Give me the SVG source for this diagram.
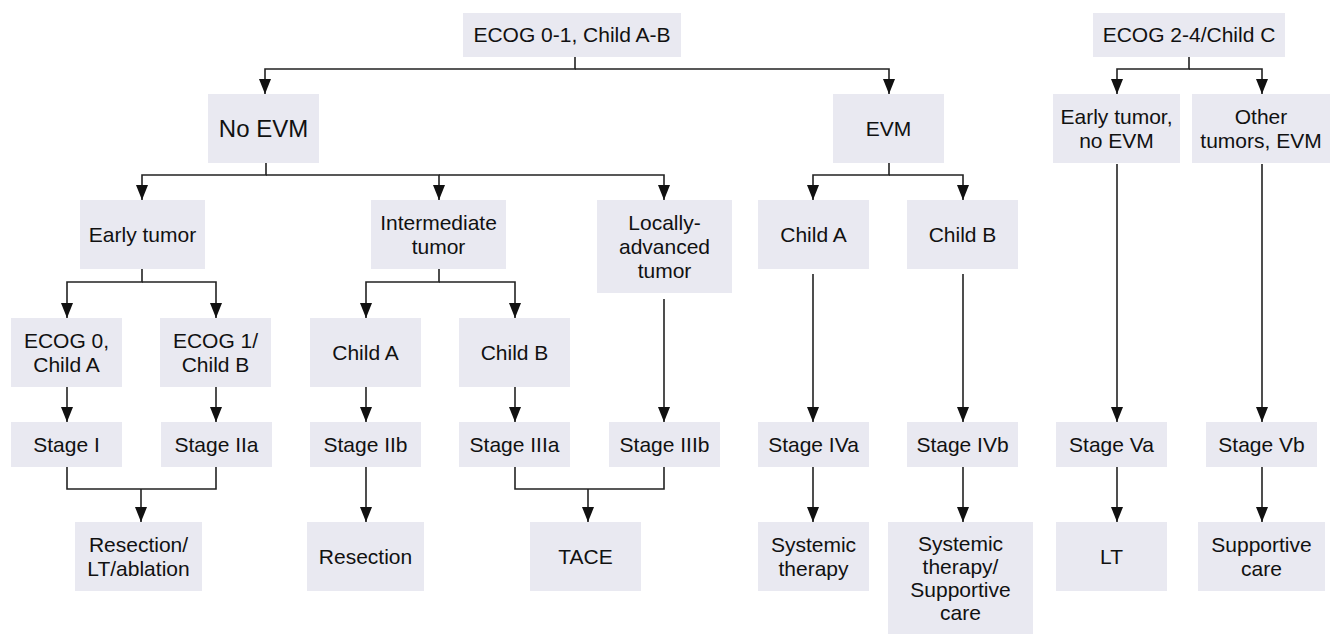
<svg xmlns="http://www.w3.org/2000/svg" width="1331" height="635" viewBox="0 0 1331 635">
  <defs>
    <marker id="arrow" viewBox="0 0 15 12" refX="15" refY="6" markerWidth="15" markerHeight="12" markerUnits="userSpaceOnUse" orient="auto">
      <path d="M0,0 L15,6 L0,12 z" fill="#111"/>
    </marker>
    <style>
      .box { fill: #e9e9f1; }
      .lbl { font-family: "Liberation Sans", Arial, Helvetica, sans-serif; font-size: 21px; fill: #111; text-anchor: middle; }
      .big { font-size: 24px; }
      .conn path { fill: none; stroke: #222; stroke-width: 1.6; }
      .conn path.arr { marker-end: url(#arrow); }
    </style>
  </defs>
  <rect width="1331" height="635" fill="#ffffff"/>

  <!-- connectors -->
  <g id="connectors" class="conn">
    <!-- ECOG 0-1 split -->
    <path class="arr" d="M575,57 V69 H265 V94"/>
    <path class="arr" d="M575,69 H889 V94"/>
    <!-- ECOG 2-4 split -->
    <path class="arr" d="M1189,57 V69 H1117 V94"/>
    <path class="arr" d="M1189,69 H1262 V94"/>
    <!-- No EVM split -->
    <path class="arr" d="M266,163 V175 H142 V200"/>
    <path class="arr" d="M266,175 H439 V200"/>
    <path class="arr" d="M439,175 H664 V200"/>
    <!-- EVM split -->
    <path class="arr" d="M889,163 V175 H813 V200"/>
    <path class="arr" d="M889,175 H963 V200"/>
    <!-- Early tumor split -->
    <path class="arr" d="M142,269 V282 H67 V318"/>
    <path class="arr" d="M142,282 H216 V318"/>
    <!-- Intermediate tumor split -->
    <path class="arr" d="M439,269 V282 H366 V318"/>
    <path class="arr" d="M439,282 H515 V318"/>
    <!-- to stages -->
    <path class="arr" d="M67,387 V422"/>
    <path class="arr" d="M216,387 V422"/>
    <path class="arr" d="M366,387 V422"/>
    <path class="arr" d="M515,387 V422"/>
    <path class="arr" d="M664,299 V422"/>
    <path class="arr" d="M813,274 V422"/>
    <path class="arr" d="M963,274 V422"/>
    <path class="arr" d="M1117,164 V422"/>
    <path class="arr" d="M1262,164 V422"/>
    <!-- stages to treatments -->
    <path d="M67,467 V489 H216 V467"/>
    <path class="arr" d="M141,489 V522"/>
    <path class="arr" d="M366,467 V522"/>
    <path d="M515,467 V489 H664 V467"/>
    <path class="arr" d="M588,489 V522"/>
    <path class="arr" d="M813,467 V522"/>
    <path class="arr" d="M963,467 V522"/>
    <path class="arr" d="M1117,467 V522"/>
    <path class="arr" d="M1262,467 V522"/>
  </g>

  <!-- level 0 -->
  <g id="ecog01">
    <rect class="box" x="463" y="13" width="218" height="44"/>
    <text class="lbl" x="572" y="42">ECOG 0-1, Child A-B</text>
  </g>
  <g id="ecog24">
    <rect class="box" x="1093" y="13" width="192" height="44"/>
    <text class="lbl" x="1189" y="42">ECOG 2-4/Child C</text>
  </g>

  <!-- level 1 -->
  <g id="no-evm">
    <rect class="box" x="208" y="94" width="111" height="69"/>
    <text class="lbl big" x="263.5" y="137">No EVM</text>
  </g>
  <g id="evm">
    <rect class="box" x="833" y="94" width="111" height="69"/>
    <text class="lbl" x="888.5" y="136">EVM</text>
  </g>
  <g id="early-no-evm">
    <rect class="box" x="1053" y="94" width="127" height="69"/>
    <text class="lbl" x="1116.5" y="124">Early tumor,</text>
    <text class="lbl" x="1116.5" y="148">no EVM</text>
  </g>
  <g id="other-tumors">
    <rect class="box" x="1192" y="94" width="138" height="69"/>
    <text class="lbl" x="1261" y="124">Other</text>
    <text class="lbl" x="1261" y="148">tumors, EVM</text>
  </g>

  <!-- level 2 -->
  <g id="early-tumor">
    <rect class="box" x="80" y="200" width="125" height="69"/>
    <text class="lbl" x="142.5" y="242">Early tumor</text>
  </g>
  <g id="intermediate-tumor">
    <rect class="box" x="371" y="200" width="135" height="69"/>
    <text class="lbl" x="438.5" y="230">Intermediate</text>
    <text class="lbl" x="438.5" y="254">tumor</text>
  </g>
  <g id="locally-advanced">
    <rect class="box" x="597" y="200" width="135" height="93"/>
    <text class="lbl" x="664.5" y="230">Locally-</text>
    <text class="lbl" x="664.5" y="254">advanced</text>
    <text class="lbl" x="664.5" y="278">tumor</text>
  </g>
  <g id="evm-child-a">
    <rect class="box" x="758" y="200" width="111" height="69"/>
    <text class="lbl" x="813.5" y="242">Child A</text>
  </g>
  <g id="evm-child-b">
    <rect class="box" x="907" y="200" width="111" height="69"/>
    <text class="lbl" x="962.5" y="242">Child B</text>
  </g>

  <!-- level 3 -->
  <g id="ecog0-child-a">
    <rect class="box" x="11" y="318" width="111" height="69"/>
    <text class="lbl" x="66.5" y="348">ECOG 0,</text>
    <text class="lbl" x="66.5" y="372">Child A</text>
  </g>
  <g id="ecog1-child-b">
    <rect class="box" x="160" y="318" width="111" height="69"/>
    <text class="lbl" x="215.5" y="348">ECOG 1/</text>
    <text class="lbl" x="215.5" y="372">Child B</text>
  </g>
  <g id="int-child-a">
    <rect class="box" x="310" y="318" width="111" height="69"/>
    <text class="lbl" x="365.5" y="360">Child A</text>
  </g>
  <g id="int-child-b">
    <rect class="box" x="459" y="318" width="111" height="69"/>
    <text class="lbl" x="514.5" y="360">Child B</text>
  </g>

  <!-- stages -->
  <g id="stage-i">
    <rect class="box" x="11" y="422" width="111" height="45"/>
    <text class="lbl" x="66.5" y="452">Stage I</text>
  </g>
  <g id="stage-iia">
    <rect class="box" x="161" y="422" width="111" height="45"/>
    <text class="lbl" x="216.5" y="452">Stage IIa</text>
  </g>
  <g id="stage-iib">
    <rect class="box" x="310" y="422" width="111" height="45"/>
    <text class="lbl" x="365.5" y="452">Stage IIb</text>
  </g>
  <g id="stage-iiia">
    <rect class="box" x="459" y="422" width="111" height="45"/>
    <text class="lbl" x="514.5" y="452">Stage IIIa</text>
  </g>
  <g id="stage-iiib">
    <rect class="box" x="609" y="422" width="111" height="45"/>
    <text class="lbl" x="664.5" y="452">Stage IIIb</text>
  </g>
  <g id="stage-iva">
    <rect class="box" x="758" y="422" width="111" height="45"/>
    <text class="lbl" x="813.5" y="452">Stage IVa</text>
  </g>
  <g id="stage-ivb">
    <rect class="box" x="907" y="422" width="111" height="45"/>
    <text class="lbl" x="962.5" y="452">Stage IVb</text>
  </g>
  <g id="stage-va">
    <rect class="box" x="1056" y="422" width="111" height="45"/>
    <text class="lbl" x="1111.5" y="452">Stage Va</text>
  </g>
  <g id="stage-vb">
    <rect class="box" x="1206" y="422" width="111" height="45"/>
    <text class="lbl" x="1261.5" y="452">Stage Vb</text>
  </g>

  <!-- treatments -->
  <g id="tx-resection-lt-ablation">
    <rect class="box" x="75" y="522" width="127" height="69"/>
    <text class="lbl" x="138.5" y="552">Resection/</text>
    <text class="lbl" x="138.5" y="576">LT/ablation</text>
  </g>
  <g id="tx-resection">
    <rect class="box" x="307" y="522" width="117" height="69"/>
    <text class="lbl" x="365.5" y="564">Resection</text>
  </g>
  <g id="tx-tace">
    <rect class="box" x="530" y="522" width="111" height="69"/>
    <text class="lbl" x="585.5" y="564">TACE</text>
  </g>
  <g id="tx-systemic">
    <rect class="box" x="758" y="522" width="111" height="69"/>
    <text class="lbl" x="813.5" y="552">Systemic</text>
    <text class="lbl" x="813.5" y="576">therapy</text>
  </g>
  <g id="tx-systemic-supportive">
    <rect class="box" x="888" y="522" width="145" height="112"/>
    <text class="lbl" x="960.5" y="551">Systemic</text>
    <text class="lbl" x="960.5" y="574">therapy/</text>
    <text class="lbl" x="960.5" y="597">Supportive</text>
    <text class="lbl" x="960.5" y="620">care</text>
  </g>
  <g id="tx-lt">
    <rect class="box" x="1056" y="522" width="111" height="69"/>
    <text class="lbl" x="1111.5" y="564">LT</text>
  </g>
  <g id="tx-supportive">
    <rect class="box" x="1198" y="522" width="127" height="69"/>
    <text class="lbl" x="1261.5" y="552">Supportive</text>
    <text class="lbl" x="1261.5" y="576">care</text>
  </g>
</svg>
